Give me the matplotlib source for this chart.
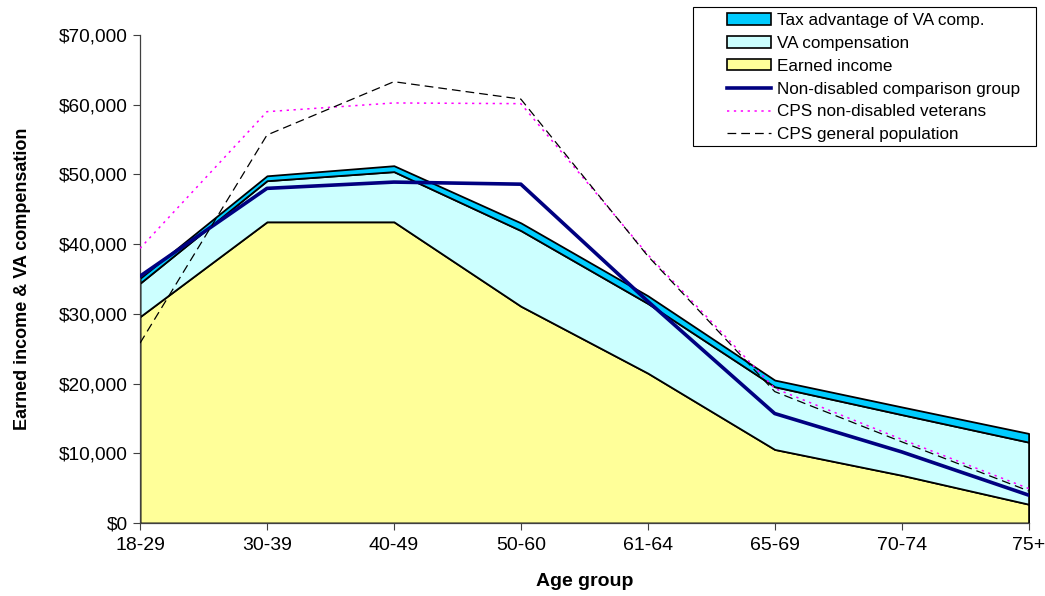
import matplotlib
matplotlib.use('Agg')
import matplotlib.pyplot as plt
from matplotlib.patches import Patch, Rectangle
from matplotlib.lines import Line2D
from matplotlib.ticker import FuncFormatter

plt.rcParams['font.family'] = ['Liberation Sans', 'DejaVu Sans']

# ---------------- data ----------------
age_groups = ['18-29', '30-39', '40-49', '50-60', '61-64', '65-69', '70-74', '75+']

earned_income = [29600, 43200, 43200, 31100, 21500, 10550, 6850, 2700]
va_compensation = [4800, 5900, 7200, 10850, 10000, 9000, 8700, 8900]
tax_advantage = [700, 700, 850, 1100, 1100, 950, 1100, 1250]

non_disabled = [35400, 48000, 48900, 48600, 31800, 15700, 10200, 4000]
cps_veterans = [39400, 59000, 60250, 60150, 38500, 19300, 12000, 4950]
cps_general = [25800, 55650, 63300, 60800, 38300, 18850, 11650, 4600]

# ---------------- figure ----------------
W, H = 1045, 596
fig = plt.figure(figsize=(W / 100, H / 100), dpi=100)
ax = fig.add_axes([0.134, 0.1225, 0.8503, 0.8188])

x = list(range(len(age_groups)))
area_colors = ['#FFFF99', '#CCFFFF', '#00CCFF']
ax.stackplot(x, earned_income, va_compensation, tax_advantage,
             colors=area_colors, edgecolor='black', linewidth=1.3, zorder=2)

ax.plot(x, non_disabled, color='#000080', linewidth=2.6, zorder=4)
ax.plot(x, cps_veterans, color='#FF00FF', linewidth=1.1, linestyle=(0, (1.5, 3)), zorder=5)
ax.plot(x, cps_general, color='black', linewidth=0.9, linestyle=(0, (7, 4)), zorder=5)

ax.set_xlim(0, len(age_groups) - 1)
ax.set_ylim(0, 70000)
ax.set_xticks(x)
ax.set_xticklabels(age_groups)
ax.set_yticks(range(0, 70001, 10000))
ax.yaxis.set_major_formatter(FuncFormatter(lambda v, _: f'${v:,.0f}'))
ax.tick_params(axis='both', direction='out', length=5, width=0.8, color='#404040')
ax.tick_params(axis='x', labelsize=14, pad=5)
ax.tick_params(axis='y', labelsize=13.7, pad=4)

for side in ('top', 'right'):
    ax.spines[side].set_visible(False)
for side in ('left', 'bottom'):
    ax.spines[side].set_color('#404040')
    ax.spines[side].set_linewidth(0.9)

ax.set_xlabel('Age group', fontsize=14, fontweight='bold', labelpad=14)
ax.set_ylabel('Earned income & VA compensation', fontsize=13, fontweight='bold', labelpad=20)

# legend: frame drawn separately so the inner padding matches the original
fig.patches.append(Rectangle((693 / W, 1 - 146 / H), (1036 - 693) / W, (146 - 7) / H,
                             transform=fig.transFigure, facecolor='white',
                             edgecolor='black', linewidth=0.8, zorder=1))
handles = [
    Patch(facecolor='#00CCFF', edgecolor='black', linewidth=1.2, label='Tax advantage of VA comp.'),
    Patch(facecolor='#CCFFFF', edgecolor='black', linewidth=1.2, label='VA compensation'),
    Patch(facecolor='#FFFF99', edgecolor='black', linewidth=1.2, label='Earned income'),
    Line2D([], [], color='#000080', linewidth=2.6, label='Non-disabled comparison group'),
    Line2D([], [], color='#FF00FF', linewidth=1.1, linestyle=(0, (1.5, 3)), label='CPS non-disabled veterans'),
    Line2D([], [], color='black', linewidth=0.9, linestyle=(0, (7, 4)), label='CPS general population'),
]
leg = fig.legend(handles=handles, loc='upper left', bbox_to_anchor=(727 / W, 1 - 13 / H),
                 fontsize=12.3, frameon=False,
                 handlelength=2.6, handleheight=0.65, handletextpad=0.3,
                 labelspacing=0.46, borderpad=0, borderaxespad=0)
leg.set_zorder(2)

fig.savefig('out.png', dpi=100)
